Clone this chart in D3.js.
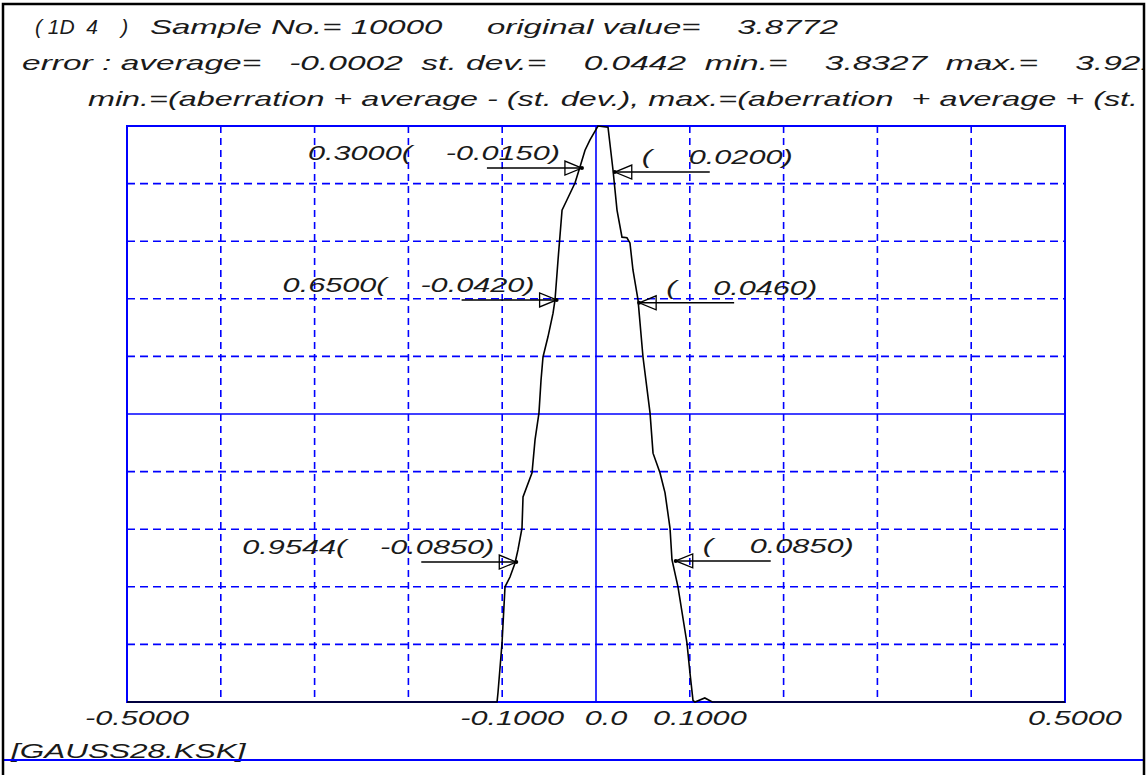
<!DOCTYPE html>
<html>
<head>
<meta charset="utf-8">
<script src="https://cdn.jsdelivr.net/npm/d3@7/dist/d3.min.js"></script>
<style>
  body { margin: 0; background: #fff; }
  text { font-family: "Liberation Sans", Arial, sans-serif; font-style: italic; fill: #1a1a1a; white-space: pre; }
</style>
</head>
<body>
<div class="chart"></div>
<script>
(function() {
  // distribution curve (x = error, y = relative frequency)
  var curveX = [-0.5, -0.1055, -0.1045, -0.1002, -0.0970, -0.0917, -0.0864, -0.0832, -0.0789, -0.0778,
    -0.0682, -0.0650, -0.0608, -0.0586, -0.0565, -0.0512, -0.0458, -0.0437, -0.0405, -0.0362,
    -0.0309, -0.0224, -0.0171, -0.0117, -0.0064, 0.0021, 0.0128, 0.0181, 0.0224, 0.0277,
    0.0330, 0.0362, 0.0394, 0.0448, 0.0501, 0.0576, 0.0608, 0.0682, 0.0736, 0.0789,
    0.0810, 0.0874, 0.0970, 0.1002, 0.1034, 0.1055, 0.1160, 0.1240, 0.5];
  var curveY = [0, 0, 0.016, 0.102, 0.200, 0.217, 0.241, 0.264, 0.302, 0.356,
    0.398, 0.455, 0.502, 0.559, 0.599, 0.634, 0.675, 0.698, 0.767, 0.854,
    0.872, 0.901, 0.929, 0.958, 0.976, 1.0, 0.998, 0.924, 0.854, 0.807,
    0.806, 0.797, 0.750, 0.698, 0.599, 0.502, 0.432, 0.398, 0.363, 0.302,
    0.247, 0.200, 0.102, 0.050, 0.003, 0, 0.007, 0, 0];

  var levels = ["0.3000", "0.6500", "0.9544"];
  var lowerBounds = [-0.0150, -0.0420, -0.0850];
  var upperBounds = [0.0200, 0.0460, 0.0850];
  var lowerHeights = [0.927, 0.698, 0.243];
  var upperHeights = [0.920, 0.693, 0.245];

  var tickValues = [-0.5, -0.1, 0, 0.1, 0.5];
  var tickLabels = ["-0.5000", "-0.1000", "0.0", "0.1000", "0.5000"];

  var header1 = ["( 1D  4    )", "Sample No.= 10000", "original value=    3.8772"];
  var header2 = "error : average=   -0.0002  st. dev.=    0.0442  min.=    3.8327  max.=    3.9217";
  var header3 = "min.=(aberration + average - (st. dev.), max.=(aberration  + average + (st. dev.))";
  var fileName = "[GAUSS28.KSK]";

  var width = 1148, height = 775,
    plot = { left: 127, right: 1065, top: 126, bottom: 702 },
    blue = "#0000ff";

  var svg = d3.select(".chart").append("svg")
    .attr("width", width)
    .attr("height", height);

  svg.append("defs").append("clipPath").attr("id", "frameClip")
    .append("rect").attr("x", 4).attr("y", 4).attr("width", 1139).attr("height", height);

  var x = d3.scaleLinear().domain([-0.5, 0.5]).range([plot.left, plot.right]);
  var y = d3.scaleLinear().domain([0, 1]).range([plot.bottom, plot.top]);

  // stretch text horizontally like the original plotter font
  function stretch(sel, k) {
    sel.each(function() {
      var w = this.getComputedTextLength();
      d3.select(this).attr("textLength", w * k).attr("lengthAdjust", "spacingAndGlyphs");
    });
  }
  function fmt(v) { return v.toFixed(4) + ")"; }

  // grid
  var g = svg.append("g");
  g.selectAll("line.vgrid")
    .data(x.ticks(10).filter(function(d) { return Math.abs(d) > 1e-9 && Math.abs(d) < 0.49; }))
    .enter().append("line")
      .attr("class", "vgrid")
      .attr("x1", function(d) { return x(d); })
      .attr("x2", function(d) { return x(d); })
      .attr("y1", plot.top)
      .attr("y2", plot.bottom)
      .attr("stroke", blue).attr("stroke-width", 1.6).attr("stroke-dasharray", "7,5");
  g.selectAll("line.hgrid")
    .data(y.ticks(10).filter(function(d) { return d > 0.01 && d < 0.99 && Math.abs(d - 0.5) > 1e-9; }))
    .enter().append("line")
      .attr("class", "hgrid")
      .attr("x1", plot.left)
      .attr("x2", plot.right)
      .attr("y1", function(d) { return y(d); })
      .attr("y2", function(d) { return y(d); })
      .attr("stroke", blue).attr("stroke-width", 1.6).attr("stroke-dasharray", "8,5");

  // centre lines
  g.append("line").attr("x1", x(0)).attr("x2", x(0)).attr("y1", plot.top).attr("y2", plot.bottom)
    .attr("stroke", blue).attr("stroke-width", 1.6);
  g.append("line").attr("x1", plot.left).attr("x2", plot.right).attr("y1", y(0.5)).attr("y2", y(0.5))
    .attr("stroke", blue).attr("stroke-width", 1.6);

  // frame
  g.append("rect")
    .attr("x", plot.left).attr("y", plot.top)
    .attr("width", plot.right - plot.left).attr("height", plot.bottom - plot.top)
    .attr("fill", "none").attr("stroke", blue).attr("stroke-width", 2);

  // curve
  var pts = curveX.map(function(d, i) { return [d, curveY[i]]; });
  svg.append("path")
    .datum(pts)
    .attr("d", d3.line().x(function(d) { return x(d[0]); }).y(function(d) { return y(d[1]); }))
    .attr("fill", "none").attr("stroke", "#000").attr("stroke-width", 1.6);

  // arrows
  var arrows = [];
  levels.forEach(function(lv, i) {
    arrows.push({ side: -1, v: lowerBounds[i], h: lowerHeights[i], level: lv });
    arrows.push({ side: 1, v: upperBounds[i], h: upperHeights[i], level: lv });
  });
  var a = svg.append("g").selectAll("g").data(arrows).enter().append("g");
  a.append("line")
    .attr("x1", function(d) { return x(d.v); })
    .attr("x2", function(d) { return x(d.v) + d.side * 95; })
    .attr("y1", function(d) { return y(d.h); })
    .attr("y2", function(d) { return y(d.h); })
    .attr("stroke", "#000").attr("stroke-width", 1.5);
  a.append("path")
    .attr("d", function(d) {
      var tx = x(d.v), ty = y(d.h), bx = tx + d.side * 17;
      return "M" + tx + "," + ty + "L" + bx + "," + (ty - 7) + "L" + bx + "," + (ty + 7) + "Z";
    })
    .attr("fill", "none").attr("stroke", "#000").attr("stroke-width", 1.3);
  a.append("circle")
    .attr("cx", function(d) { return x(d.v); })
    .attr("cy", function(d) { return y(d.h); })
    .attr("r", 2).attr("fill", "#000");

  // arrow labels
  var lab = svg.append("g").attr("font-size", 21);
  var left = arrows.filter(function(d) { return d.side < 0; });
  var right = arrows.filter(function(d) { return d.side > 0; });
  lab.selectAll("text.lv").data(left).enter().append("text")
    .attr("class", "lv")
    .attr("x", function(d) { return x(d.v) - 170; })
    .attr("y", function(d) { return y(d.h) - 8; })
    .attr("text-anchor", "end")
    .text(function(d) { return d.level + "("; })
    .call(stretch, 1.46);
  lab.selectAll("text.lo").data(left).enter().append("text")
    .attr("class", "lo")
    .attr("x", function(d) { return x(d.v) - 22; })
    .attr("y", function(d) { return y(d.h) - 8; })
    .attr("text-anchor", "end")
    .text(function(d) { return fmt(d.v); })
    .call(stretch, 1.46);
  lab.selectAll("text.po").data(right).enter().append("text")
    .attr("class", "po")
    .attr("x", function(d) { return x(d.v) + 27; })
    .attr("y", function(d) { return y(d.h) - 8; })
    .text("(")
    .call(stretch, 1.46);
  lab.selectAll("text.up").data(right).enter().append("text")
    .attr("class", "up")
    .attr("x", function(d) { return x(d.v) + 178; })
    .attr("y", function(d) { return y(d.h) - 8; })
    .attr("text-anchor", "end")
    .text(function(d) { return fmt(d.v); })
    .call(stretch, 1.46);

  // x tick labels
  svg.append("g").attr("font-size", 21).selectAll("text")
    .data(tickValues).enter().append("text")
      .attr("x", function(d) { return x(d) + 10; })
      .attr("y", 725)
      .attr("text-anchor", "middle")
      .text(function(d, i) { return tickLabels[i]; })
      .call(stretch, 1.46);

  // header
  var head = svg.append("g").attr("clip-path", "url(#frameClip)").attr("font-size", 21);
  var h1x = [35, 150, 838], h1k = [1.0, 1.57, 1.57];
  head.selectAll("text.h1").data(header1).enter().append("text")
    .attr("class", "h1")
    .attr("y", 34)
    .text(function(d) { return d; })
    .each(function(d, i) {
      var t = d3.select(this), w = this.getComputedTextLength() * h1k[i];
      t.attr("textLength", w).attr("lengthAdjust", "spacingAndGlyphs")
        .attr("x", i === 2 ? h1x[i] - w : h1x[i]);
    });
  head.append("text").attr("x", 22).attr("y", 70).text(header2).call(stretch, 1.595);
  head.append("text").attr("x", 88).attr("y", 106).text(header3).call(stretch, 1.54);

  // file name and bottom rule
  svg.append("text").attr("font-size", 21).attr("x", 11).attr("y", 758)
    .text(fileName).call(stretch, 1.5);
  svg.append("line").attr("x1", 3).attr("x2", 1144).attr("y1", 760).attr("y2", 760)
    .attr("stroke", blue).attr("stroke-width", 2);

  // outer black border (left, top, right)
  svg.append("path").attr("d", "M3,775V4H1144V775")
    .attr("fill", "none").attr("stroke", "#000").attr("stroke-width", 2.5);
})();
</script>
</body>
</html>
